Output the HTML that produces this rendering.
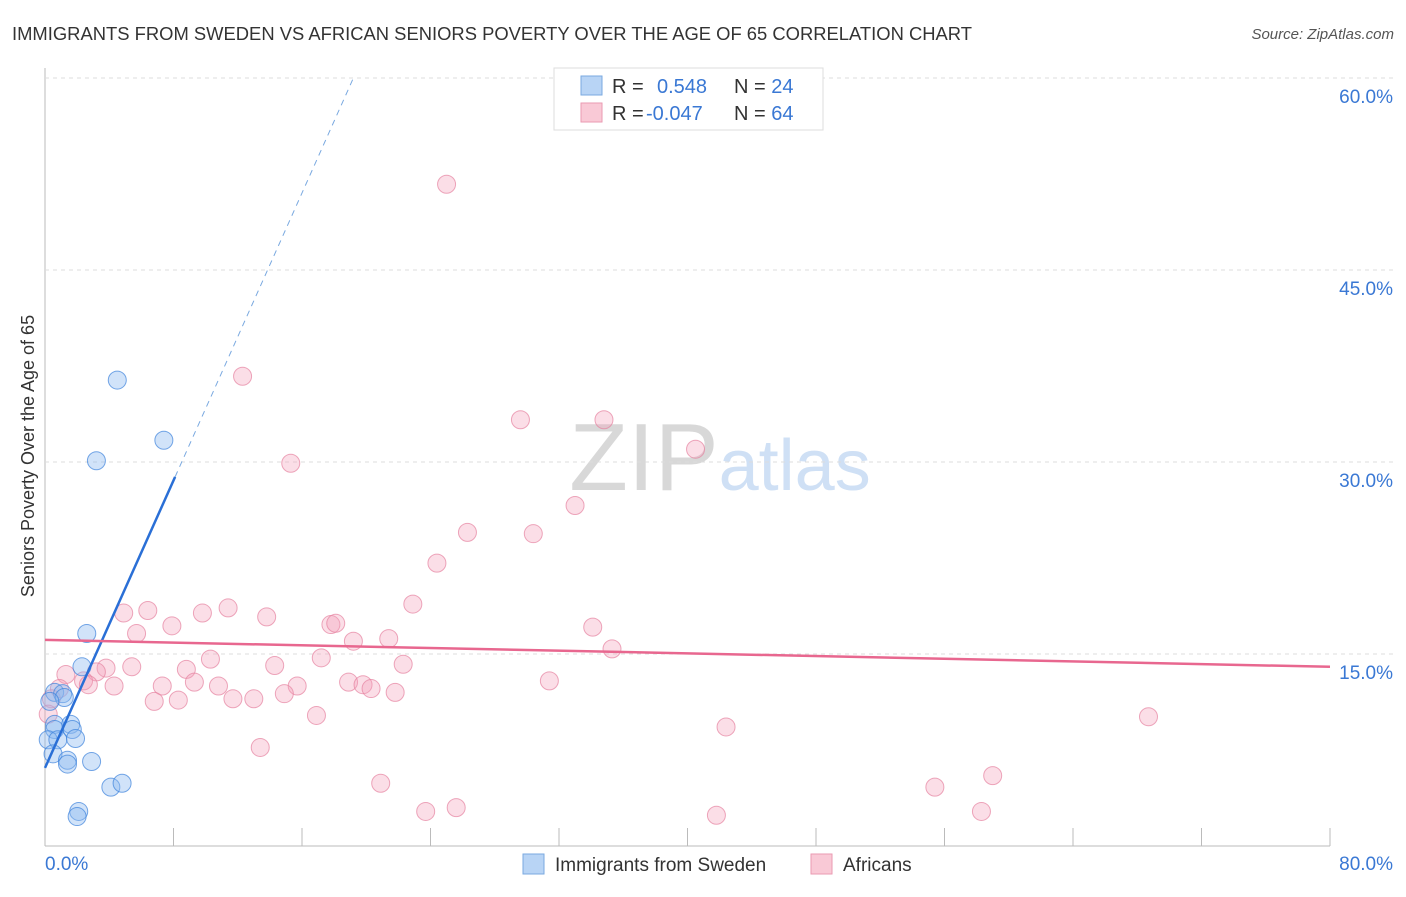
<!DOCTYPE html>
<html><head><meta charset="utf-8"><style>
body{margin:0;background:#fff;font-family:"Liberation Sans",sans-serif}
svg text{font-family:"Liberation Sans",sans-serif}
</style></head><body>
<svg id="chart" width="1406" height="892">
<text x="12" y="40" font-size="18" fill="#333" textLength="960" lengthAdjust="spacingAndGlyphs">IMMIGRANTS FROM SWEDEN VS AFRICAN SENIORS POVERTY OVER THE AGE OF 65 CORRELATION CHART</text>
<text x="1394" y="39" font-size="15" fill="#555" font-style="italic" text-anchor="end">Source: ZipAtlas.com</text>
<text x="34" y="456" font-size="18" fill="#333" text-anchor="middle" transform="rotate(-90 34 456)">Seniors Poverty Over the Age of 65</text>
<text x="720" y="490" font-size="96" fill="#ddd" text-anchor="middle" font-family="Liberation Serif"><tspan fill="#d8d8d8">ZIP</tspan><tspan fill="#cfe0f5" font-family="Liberation Sans" font-size="72">atlas</tspan></text>
<g id="grid"></g><g id="pts"></g><g id="lines"></g>
<g>
<rect x="554" y="68" width="269" height="62" fill="#fff" stroke="#ddd"/>
<rect x="581" y="76" width="21" height="19" fill="#b8d4f5" stroke="#7aa9e0"/>
<rect x="581" y="103" width="21" height="19" fill="#f9c9d6" stroke="#ea9ab2"/>
<text x="612" y="93" font-size="20" fill="#333">R = <tspan x="657" fill="#3a78d4">0.548</tspan><tspan x="734" fill="#333">N = </tspan><tspan fill="#3a78d4">24</tspan></text>
<text x="612" y="120" font-size="20" fill="#333">R = <tspan x="646" fill="#3a78d4">-0.047</tspan><tspan x="734" fill="#333">N = </tspan><tspan fill="#3a78d4">64</tspan></text>
</g>
<g>
<rect x="523" y="854" width="21" height="20" fill="#b8d4f5" stroke="#7aa9e0"/>
<text x="555" y="871" font-size="19" fill="#333">Immigrants from Sweden</text>
<rect x="811" y="854" width="21" height="20" fill="#f9c9d6" stroke="#ea9ab2"/>
<text x="843" y="871" font-size="19" fill="#333">Africans</text>
</g>
</svg>
<script>
const yTicks=[15,30,45,60];
const xTickLabels=["0.0%","80.0%"];
const blueX=[4.5,7.4,3.2,2.6,2.3,0.6,1.1,1.2,0.6,1.6,0.6,1.7,0.2,0.8,1.9,0.5,1.4,1.4,2.9,4.1,4.8,2.1,2.0,0.3];
const blueY=[36.4,31.7,30.1,16.6,14.0,12.0,11.9,11.6,9.5,9.5,9.1,9.1,8.3,8.3,8.4,7.2,6.7,6.4,6.6,4.6,4.9,2.7,2.3,11.3];
const pinkX=[25,12.3,29.6,34.8,15.3,40.5,33,26.3,30.4,24.4,22.9,4.9,6.4,9.8,11.4,13.8,7.9,5.7,17.8,18.1,19.2,21.4,34.1,35.3,10.3,17.2,22.3,5.4,3.8,3.2,8.8,14.3,2.4,1.3,9.3,7.3,18.9,19.8,20.3,21.8,31.4,15.7,10.8,4.3,2.7,11.7,13,14.9,6.8,8.3,16.9,0.9,0.4,0.2,42.4,68.7,13.4,20.9,59,55.4,23.7,25.6,41.8,58.3];
const pinkY=[51.7,36.7,33.3,33.3,29.9,31,26.6,24.5,24.4,22.1,18.9,18.2,18.4,18.2,18.6,17.9,17.2,16.6,17.3,17.4,16,16.2,17.1,15.4,14.6,14.7,14.2,14,13.9,13.6,13.8,14.1,12.9,13.4,12.8,12.5,12.8,12.6,12.3,12,12.9,12.5,12.5,12.5,12.6,11.5,11.5,11.9,11.3,11.4,10.2,12.3,11.5,10.3,9.3,10.1,7.7,4.9,5.5,4.6,2.7,3,2.4,2.7];
const blueLine=[6.1,60];
const blueLineEndX=[8.1,19.2];
const pinkLine=[16.1,14.0];
const NS="http://www.w3.org/2000/svg";
const X=v=>45+v/80*1285, Y=v=>846-v*12.8;
function mk(t,a,p){const e=document.createElementNS(NS,t);for(const k in a)e.setAttribute(k,a[k]);document.getElementById(p).appendChild(e);return e;}
let ax=mk('line',{x1:45,y1:68,x2:45,y2:846,stroke:'#bbb'},'grid');


let bx=mk('line',{x1:45,y1:846,x2:1330,y2:846,stroke:'#bbb'},'grid');


for(let i=0;i<=10;i++){let t=mk('line',{x1:X(i*8),y1:828,x2:X(i*8),y2:846,stroke:'#bbb'},'grid');

}
yTicks.forEach(v=>{let g=mk('line',{x1:45,y1:Y(v),x2:1394,y2:Y(v),stroke:'#ddd','stroke-dasharray':'4 4'},'grid');


let t=mk('text',{x:1393,y:Y(v)+25,'font-size':19,fill:'#3a78d4','text-anchor':'end'},'grid');t.textContent=v.toFixed(1)+'%';

});
let l0=mk('text',{x:45,y:870,'font-size':19,fill:'#3a78d4'},'grid');l0.textContent=xTickLabels[0];


let l1=mk('text',{x:1393,y:870,'font-size':19,fill:'#3a78d4','text-anchor':'end'},'grid');l1.textContent=xTickLabels[1];


pinkX.forEach((x,i)=>{let c=mk('circle',{cx:X(x),cy:Y(pinkY[i]),r:9,fill:'rgba(244,160,185,0.35)',stroke:'rgba(230,130,160,0.7)'},'pts');

});
blueX.forEach((x,i)=>{let c=mk('circle',{cx:X(x),cy:Y(blueY[i]),r:9,fill:'rgba(140,185,240,0.4)',stroke:'rgba(60,130,220,0.7)'},'pts');

});
const slope=(blueLine[1]-blueLine[0])/blueLineEndX[1];
let bl=mk('line',{x1:X(0),y1:Y(blueLine[0]),x2:X(blueLineEndX[0]),y2:Y(blueLine[0]+slope*blueLineEndX[0]),stroke:'#2a6fd6','stroke-width':2.5},'lines');


let bd=mk('line',{x1:X(blueLineEndX[0]),y1:Y(blueLine[0]+slope*blueLineEndX[0]),x2:X(blueLineEndX[1]),y2:Y(blueLine[1]),stroke:'#7aa9e0','stroke-width':1,'stroke-dasharray':'6 5'},'lines');


let pl=mk('line',{x1:X(0),y1:Y(pinkLine[0]),x2:X(80),y2:Y(pinkLine[1]),stroke:'#e8678f','stroke-width':2.5},'lines');


</script>
</body></html>
